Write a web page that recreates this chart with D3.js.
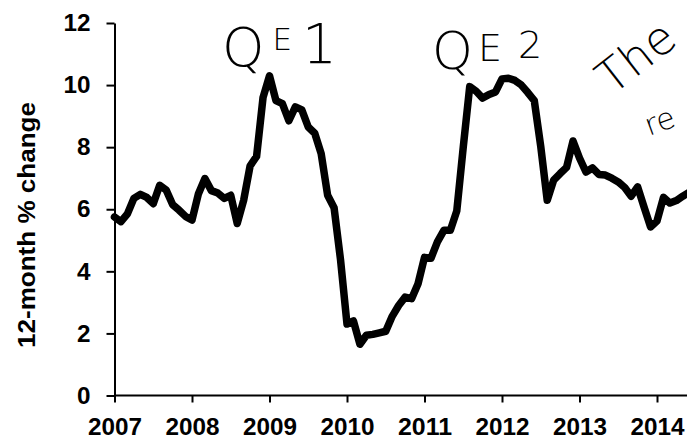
<!DOCTYPE html>
<html>
<head>
<meta charset="utf-8">
<script src="https://cdn.jsdelivr.net/npm/d3@7"></script>
<style>
  html, body { margin: 0; padding: 0; background: #fff; overflow: hidden; }
  svg { display: block; }
</style>
</head>
<body>
<svg id="chart" width="687" height="439"></svg>
<script>
// ---- data (12-month % change, monthly, starting January 2007) ----
const startYear = 2007;
const values = [
  5.75, 5.6, 5.85, 6.35, 6.48, 6.38, 6.18, 6.77, 6.62, 6.15, 5.97, 5.77,   // 2007
  5.65, 6.5, 6.99, 6.6, 6.52, 6.35, 6.45, 5.54, 6.29, 7.4, 7.7, 9.6,      // 2008
  10.3, 9.5, 9.4, 8.85, 9.3, 9.2, 8.65, 8.45, 7.79, 6.45, 6.05, 4.37,     // 2009
  2.3, 2.4, 1.65, 1.94, 1.97, 2.02, 2.07, 2.55, 2.9, 3.17, 3.12, 3.6,     // 2010
  4.45, 4.42, 4.95, 5.32, 5.32, 5.95, 8.0, 9.95, 9.8, 9.58, 9.7, 9.78,    // 2011
  10.2, 10.22, 10.15, 10.0, 9.76, 9.5, 8.02, 6.29, 6.94, 7.15, 7.35, 8.2, // 2012
  7.65, 7.2, 7.33, 7.12, 7.1, 7.0, 6.88, 6.7, 6.42, 6.72, 6.07, 5.43,     // 2013
  5.62, 6.38, 6.2, 6.28, 6.42, 6.55                                        // 2014
];
const yearTicks = [2007, 2008, 2009, 2010, 2011, 2012, 2013, 2014];
const valueTicks = [0, 2, 4, 6, 8, 10, 12];
const yTitle = "12-month % change";
const notes = ["QE1", "QE2", "The", "re"];

// ---- layout ----
const svg = d3.select("#chart");
const x = d3.scaleLinear().domain([2007, 2014]).range([114.5, 657]);
const y = d3.scaleLinear().domain([0, 12]).range([395.5, 23]);

const series = values.map((v, i) => ({ t: startYear + i / 12, v }));

// line
svg.append("path")
  .datum(series)
  .attr("fill", "none")
  .attr("stroke", "#000")
  .attr("stroke-width", 7.5)
  .attr("stroke-linejoin", "round")
  .attr("stroke-linecap", "round")
  .attr("d", d3.line().x(d => x(d.t)).y(d => y(d.v)));

const labelFont = "'Liberation Sans', Arial, sans-serif";
const digitW = 13.5;

// y axis
const yAxis = svg.append("g")
  .attr("transform", `translate(${x(2007)},0)`)
  .attr("font-family", labelFont)
  .attr("font-size", 24)
  .call(d3.axisLeft(y).tickValues(valueTicks).tickSize(8).tickSizeOuter(0).tickPadding(16));
yAxis.select(".domain").attr("stroke-width", 2);
yAxis.selectAll(".tick line").attr("stroke-width", 2);
yAxis.selectAll("text")
  .style("font-family", labelFont)
  .style("font-weight", "bold")
  .style("font-size", "24px")
  .attr("textLength", d => String(d).length * digitW)
  .attr("lengthAdjust", "spacingAndGlyphs")
  .attr("fill", "#000");

// x axis
const xAxis = svg.append("g")
  .attr("transform", `translate(0,${y(0)})`)
  .attr("font-family", labelFont)
  .attr("font-size", 24)
  .call(d3.axisBottom(x).tickValues(yearTicks).tickFormat(d3.format("d"))
    .tickSize(7).tickSizeOuter(0).tickPadding(15));
xAxis.select(".domain").attr("d", `M${x(2007)},0H700`).attr("stroke-width", 2);
xAxis.selectAll(".tick line").attr("stroke-width", 2);
xAxis.selectAll("text")
  .style("font-family", labelFont)
  .style("font-weight", "bold")
  .style("font-size", "24px")
  .attr("textLength", 4 * digitW)
  .attr("lengthAdjust", "spacingAndGlyphs")
  .attr("fill", "#000");

// y title
svg.append("text")
  .attr("transform", "translate(35,225) rotate(-90)")
  .attr("text-anchor", "middle")
  .style("font-family", labelFont)
  .style("font-weight", "bold")
  .style("font-size", "23px")
  .attr("textLength", 246)
  .attr("lengthAdjust", "spacingAndGlyphs")
  .text(yTitle);

// handwritten-style notes (each character with its own size, like the pen strokes)
const handFont = "'DejaVu Sans', sans-serif";
function note(txt, tx, ty, rot, parts) {
  const t = svg.append("text")
    .attr("transform", `translate(${tx},${ty}) rotate(${rot})`)
    .style("font-family", handFont)
    .style("font-weight", 200)
    .attr("fill", "#000");
  txt.split("").forEach((ch, i) => {
    const p = parts[i] || parts[parts.length - 1];
    t.append("tspan")
      .attr("dx", p.dx || 0)
      .attr("dy", p.dy || 0)
      .style("font-size", p.size + "px")
      .text(ch);
  });
}
note(notes[0], 222, 66, 0, [
  { size: 54 },
  { size: 31, dx: 8, dy: -16 },
  { size: 55, dx: 10, dy: 13 }
]);
note(notes[1], 432, 69, 0, [
  { size: 52 },
  { size: 38, dx: 5, dy: -8 },
  { size: 38, dx: 16, dy: -3 }
]);
note(notes[2], 612, 96, -38, [{ size: 46 }]);
note(notes[3], 649, 136, -20, [{ size: 30 }]);
</script>
</body>
</html>
